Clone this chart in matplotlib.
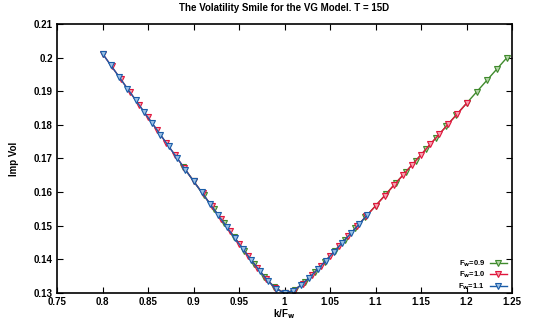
import numpy as np
import matplotlib
matplotlib.use('Agg')
import matplotlib.pyplot as plt

plt.rcParams['font.family'] = ['Liberation Sans', 'DejaVu Sans']
plt.rcParams['font.weight'] = 'bold'

# strikes used for each forward, step 0.01
F_values = [0.9, 1.0, 1.1]
strikes_09 = np.round(np.arange(0.80, 1.1201, 0.01), 2)
strikes_10 = np.round(np.arange(0.80, 1.2001, 0.01), 2)
strikes_11 = np.round(np.arange(0.88, 1.2001, 0.01), 2)

# implied vols
vol_09 = [0.1675, 0.1633, 0.1591, 0.1550, 0.1508, 0.1467, 0.1426, 0.1387,
          0.1349, 0.1317, 0.1300, 0.1309, 0.1333, 0.1362, 0.1393, 0.1426,
          0.1459, 0.1492, 0.1526, 0.1559, 0.1593, 0.1627, 0.1660, 0.1694,
          0.1728, 0.1762, 0.1796, 0.1830, 0.1864, 0.1898, 0.1932, 0.1966,
          0.2000]
vol_10 = [0.2012, 0.1974, 0.1936, 0.1898, 0.1860, 0.1822, 0.1784, 0.1746,
          0.1709, 0.1671, 0.1633, 0.1596, 0.1558, 0.1521, 0.1483, 0.1447,
          0.1410, 0.1375, 0.1342, 0.1314, 0.1300, 0.1307, 0.1327, 0.1353,
          0.1381, 0.1410, 0.1439, 0.1469, 0.1499, 0.1529, 0.1559, 0.1589,
          0.1620, 0.1650, 0.1681, 0.1711, 0.1742, 0.1772, 0.1803, 0.1833,
          0.1864]
vol_11 = [0.2012, 0.1977, 0.1943, 0.1908, 0.1874, 0.1839, 0.1805, 0.1771,
          0.1736, 0.1702, 0.1667, 0.1633, 0.1599, 0.1565, 0.1531, 0.1497,
          0.1463, 0.1430, 0.1397, 0.1366, 0.1336, 0.1312, 0.1300, 0.1306,
          0.1323, 0.1346, 0.1370, 0.1396, 0.1423, 0.1450, 0.1477, 0.1504,
          0.1532]

x_ticks = [0.75, 0.8, 0.85, 0.9, 0.95, 1, 1.05, 1.1, 1.15, 1.2, 1.25]
y_ticks = [0.13, 0.14, 0.15, 0.16, 0.17, 0.18, 0.19, 0.2, 0.21]
labels = ['F$_\\mathbf{w}$=0.9', 'F$_\\mathbf{w}$=1.0', 'F$_\\mathbf{w}$=1.1']
colors = ['#3f8a2c', '#e0163c', '#1a5ca8']
face_colors = ['#b5d6a9', '#f5a3b0', '#9cc0e4']

fig = plt.figure(figsize=(5.41, 3.23), dpi=100)
ax = fig.add_axes([0.1054, 0.0929, 0.8410, 0.8328])

series = [(strikes_09, vol_09), (strikes_10, vol_10), (strikes_11, vol_11)]
for (k, v), F, lab, c, fc in zip(series, F_values, labels, colors, face_colors):
    ax.plot(k / F, v, color=c, lw=1.0, marker='v', ms=3.8,
            mfc=fc, mec=c, mew=0.8, label=lab)

ax.set_xlim(0.75, 1.25)
ax.set_ylim(0.13, 0.21)
ax.set_xticks(x_ticks)
ax.set_xticklabels([f'{t:g}' for t in x_ticks])
ax.set_yticks(y_ticks)
ax.set_yticklabels([f'{t:g}' for t in y_ticks])
ax.tick_params(direction='in', top=True, right=True, length=4, width=0.8,
               labelsize=7, pad=3)
for sp in ax.spines.values():
    sp.set_linewidth(1.2)

ax.set_title('The Volatility Smile for the VG Model. T = 15D',
             fontsize=7, fontweight='bold', pad=9)
ax.set_xlabel('k/F$_\\mathbf{w}$', fontsize=7, fontweight='bold', labelpad=0)
ax.set_ylabel('Imp Vol', fontsize=7, fontweight='bold', labelpad=11)

leg = ax.legend(loc='lower right', bbox_to_anchor=(1.0, -0.015),
                fontsize=5.5, frameon=False,
                handlelength=2.2, handletextpad=0.6, labelspacing=0.1,
                markerfirst=False, borderaxespad=0.3)

fig.savefig('out.png', dpi=100)
